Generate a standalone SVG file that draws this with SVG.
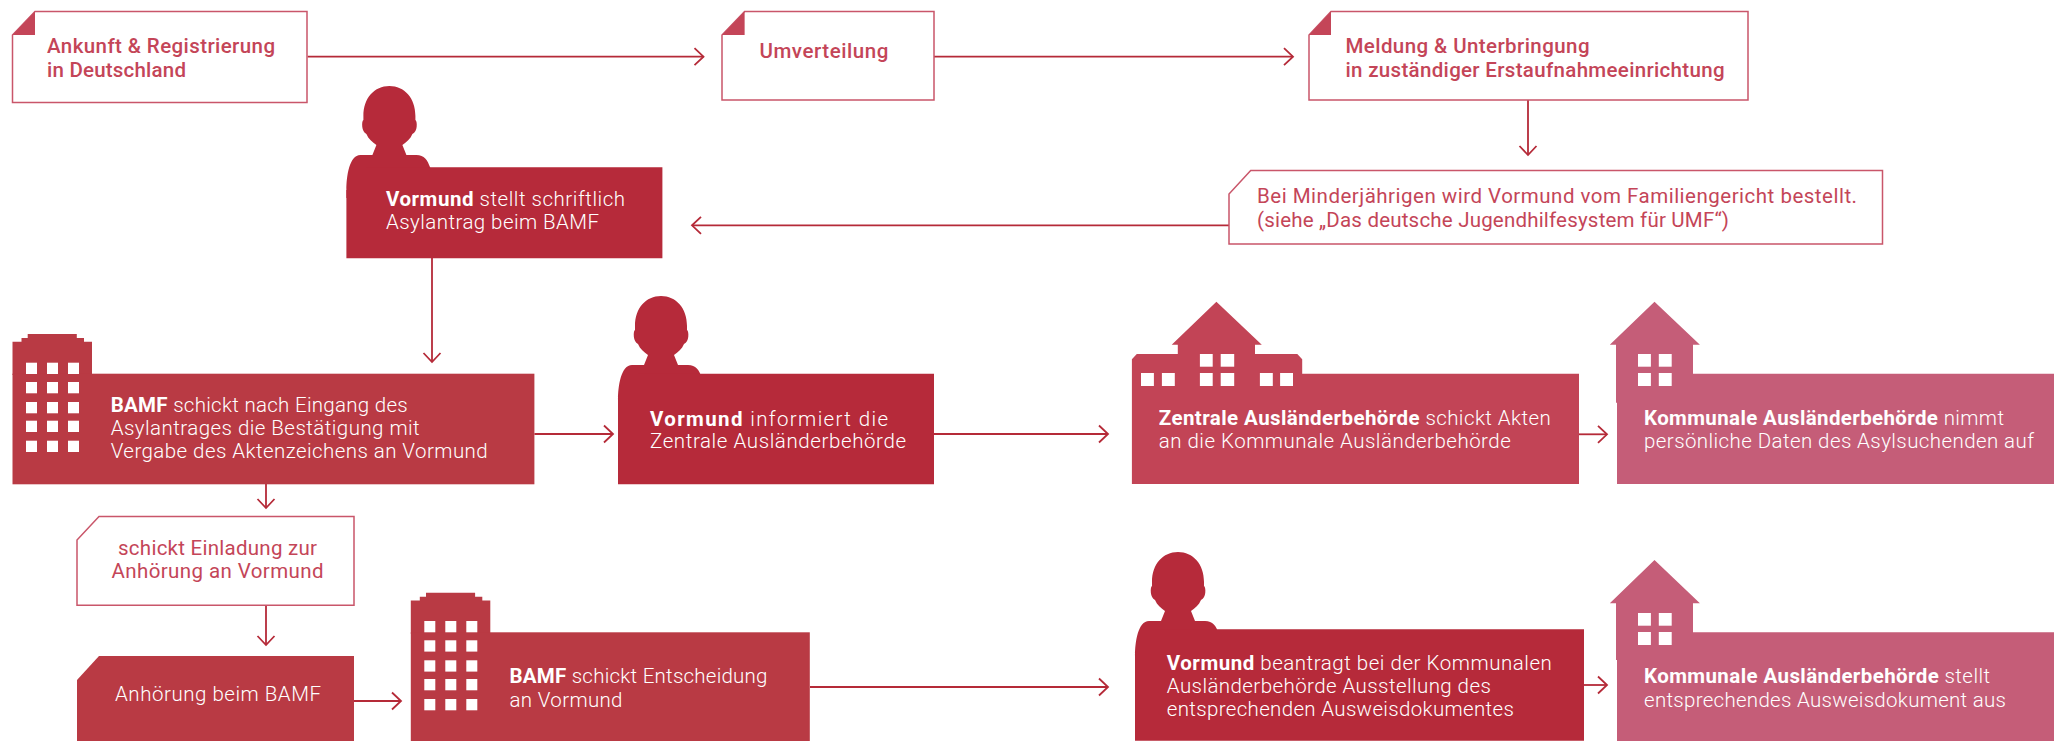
<svg xmlns="http://www.w3.org/2000/svg" width="2061" height="741" viewBox="0 0 2061 741">
<style>
text{font-family:Roboto,"Open Sans","Liberation Sans",sans-serif;font-size:20.5px}
.w{fill:#fff;font-weight:300}
.w tspan.b{font-weight:700}
.r{fill:#c44558;font-weight:400}
.rb{fill:#c44558;font-weight:500}
.m{text-anchor:middle}
.box{fill:#fff;stroke:#c9566a;stroke-width:1.5}
.cor{fill:#c44558}
.v{fill:#b62a3a}.f{fill:#b93a44}.z{fill:#c24456}.k{fill:#c55d78}
.win{fill:#fff}
#connectors path{fill:none;stroke:#b52a38;stroke-width:1.8;marker-end:url(#head)}
</style>
<defs>
<marker id="head" markerUnits="userSpaceOnUse" markerWidth="14" markerHeight="22" refX="11" refY="10" orient="auto" overflow="visible">
<path d="M2 1.500L11 10L2 18.500" fill="none" stroke="#b52a38" stroke-width="1.8"/>
</marker>
<path id="person" d="M43 0C58 0 69 12 69 30L69 34C71 35 71.500 46 66 48C64 53 60 56 56 59L60 69L70 69C78 69 81 74 84 82L84 112L0 112L0 104C0 90 3 69 14 69L26 69L30 59C26 56 22 53 20 48C15 46 15 35 17 34L17 30C17 12 28 0 43 0Z"/>
<path id="tower" d="M0 7.700L9 7.700L9 4L15.200 4L15.200 0L64.300 0L64.300 4L71.500 4L71.500 7.700L79.500 7.700L79.500 41L0 41Z"/>
<g id="wins">
<rect x="13.500" y="0" width="11" height="11.300"/><rect x="34.500" y="0" width="11" height="11.300"/><rect x="55.500" y="0" width="11" height="11.300"/>
<rect x="13.500" y="19.300" width="11" height="11.300"/><rect x="34.500" y="19.300" width="11" height="11.300"/><rect x="55.500" y="19.300" width="11" height="11.300"/>
<rect x="13.500" y="39.300" width="11" height="11.300"/><rect x="34.500" y="39.300" width="11" height="11.300"/><rect x="55.500" y="39.300" width="11" height="11.300"/>
<rect x="13.500" y="58" width="11" height="11.300"/><rect x="34.500" y="58" width="11" height="11.300"/><rect x="55.500" y="58" width="11" height="11.300"/>
<rect x="13.500" y="78" width="11" height="11.300"/><rect x="34.500" y="78" width="11" height="11.300"/><rect x="55.500" y="78" width="11" height="11.300"/>
</g>
</defs>

<g id="connectors">
<path d="M307.600 56.700H703.500"/>
<path d="M934 56.700H1293"/>
<path d="M1528 100V155"/>
<path d="M1229 225.300H692"/>
<path d="M432 258V362"/>
<path d="M534.400 434H613"/>
<path d="M934 434H1108"/>
<path d="M1579 434.300H1607"/>
<path d="M266 484V508"/>
<path d="M266 605V645"/>
<path d="M354 701H401"/>
<path d="M810 687H1108"/>
<path d="M1584 685H1607"/>
</g>

<g id="n-ankunft">
<path class="box" d="M35 11.500H307V102.500H12.500V35Z"/>
<path class="cor" d="M35 11.500V35H12.500Z"/>
<text class="rb" x="47" y="53.300" textLength="228">Ankunft &amp; Registrierung</text>
<text class="rb" x="47" y="76.700" textLength="139">in Deutschland</text>
</g>
<g id="n-umverteilung">
<path class="box" d="M744.600 11.500H934V100H722V35Z"/>
<path class="cor" d="M744.600 11.500V35H722Z"/>
<text class="rb" x="759.400" y="57.700" textLength="129">Umverteilung</text>
</g>
<g id="n-meldung">
<path class="box" d="M1331 11.500H1748V100H1309V35Z"/>
<path class="cor" d="M1331 11.500V35H1309Z"/>
<text class="rb" x="1345.500" y="53.300" textLength="244">Meldung &amp; Unterbringung</text>
<text class="rb" x="1345.500" y="76.700" textLength="379">in zuständiger Erstaufnahmeeinrichtung</text>
</g>
<g id="n-minderjaehrige">
<path class="box" d="M1250.700 170.500H1882.500V244H1229V194Z"/>
<text class="r" x="1257" y="203.300" textLength="600">Bei Minderjährigen wird Vormund vom Familiengericht bestellt.</text>
<text class="r" x="1257" y="226.700" textLength="472">(siehe „Das deutsche Jugendhilfesystem für UMF“)</text>
</g>

<g id="n-vormund1">
<use href="#person" class="v" x="346.400" y="86"/>
<path class="v" d="M366 167.300H662.400V258.300H346.400V190H366Z"/>
<text class="w" x="386" y="205.700" textLength="239"><tspan class="b">Vormund</tspan> stellt schriftlich</text>
<text class="w" x="386" y="228.700" textLength="213">Asylantrag beim BAMF</text>
</g>

<g id="n-bamf1">
<use href="#tower" class="f" x="12.500" y="334"/>
<rect class="f" x="12.500" y="373.700" width="521.900" height="110.600"/>
<use href="#wins" class="win" x="12.500" y="362.700"/>
<text class="w" x="110.700" y="411.700" textLength="297"><tspan class="b">BAMF</tspan> schickt nach Eingang des</text>
<text class="w" x="110.700" y="435" textLength="309">Asylantrages die Bestätigung mit</text>
<text class="w" x="110.700" y="457.700" textLength="377">Vergabe des Aktenzeichens an Vormund</text>
</g>

<g id="n-vormund2">
<use href="#person" class="v" x="618" y="296"/>
<path class="v" d="M638 373.700H934V484.300H618V400H638Z"/>
<text class="w" x="650" y="425.700" textLength="238"><tspan class="b">Vormund</tspan> informiert die</text>
<text class="w" x="650" y="448.300" textLength="256">Zentrale Ausländerbehörde</text>
</g>

<g id="n-zentrale">
<path class="z" d="M1216.400 301.700L1261.800 344.700H1255V354H1297.300L1302.200 359.300V373.700H1579V484H1131.900V359.300L1136.800 354H1177.800V344.700H1171.700Z"/>
<g class="win">
<rect x="1199.900" y="354" width="12.800" height="12.700"/><rect x="1220.700" y="354" width="13.500" height="12.700"/>
<rect x="1199.900" y="373" width="12.800" height="13"/><rect x="1220.700" y="373" width="13.500" height="13"/>
<rect x="1141" y="373" width="12.900" height="13"/><rect x="1161.900" y="373" width="12.900" height="13"/>
<rect x="1259.900" y="373" width="12.900" height="13"/><rect x="1280.100" y="373" width="12.900" height="13"/>
</g>
<text class="w" x="1158.800" y="425.300" textLength="392"><tspan class="b">Zentrale Ausländerbehörde</tspan> schickt Akten</text>
<text class="w" x="1158.800" y="448.300" textLength="352">an die Kommunale Ausländerbehörde</text>
</g>

<g id="n-kommunal1">
<path class="k" d="M1654.500 301.700L1699.900 344.700H1693V373.700H2054V484H1617V402.700H1616V344.700H1609.800Z"/>
<g class="win">
<rect x="1638" y="354" width="12.900" height="12.700"/><rect x="1658.800" y="354" width="12.900" height="12.700"/>
<rect x="1638" y="373" width="12.900" height="13"/><rect x="1658.800" y="373" width="12.900" height="13"/>
</g>
<text class="w" x="1644" y="425.300" textLength="360"><tspan class="b">Kommunale Ausländerbehörde</tspan> nimmt</text>
<text class="w" x="1644" y="448.300" textLength="390">persönliche Daten des Asylsuchenden auf</text>
</g>

<g id="n-einladung">
<path class="box" d="M99 516.500H354V605.300H77V540Z"/>
<text class="r m" x="217.500" y="555" textLength="199">schickt Einladung zur</text>
<text class="r m" x="217.500" y="578.300" textLength="212">Anhörung an Vormund</text>
</g>

<g id="n-anhoerung">
<path class="f" d="M99 656H354V741H77V680Z"/>
<text class="w m" x="218" y="700.700" textLength="206">Anhörung beim BAMF</text>
</g>

<g id="n-bamf2">
<use href="#tower" class="f" x="410.800" y="592.700"/>
<rect class="f" x="410.800" y="632.300" width="399" height="108.700"/>
<use href="#wins" class="win" x="410.800" y="621"/>
<text class="w" x="509.500" y="683.300" textLength="258"><tspan class="b">BAMF</tspan> schickt Entscheidung</text>
<text class="w" x="509.500" y="706.700" textLength="113">an Vormund</text>
</g>

<g id="n-vormund3">
<use href="#person" class="v" x="1135" y="552"/>
<path class="v" d="M1155 629.300H1584V740.700H1135V656H1155Z"/>
<text class="w" x="1166.800" y="670" textLength="385"><tspan class="b">Vormund</tspan> beantragt bei der Kommunalen</text>
<text class="w" x="1166.800" y="693.300" textLength="324">Ausländerbehörde Ausstellung des</text>
<text class="w" x="1166.800" y="716" textLength="347">entsprechenden Ausweisdokumentes</text>
</g>

<g id="n-kommunal2">
<path class="k" d="M1654.500 560L1699.900 603.300H1693V632.300H2054V741H1617V660H1616V603.300H1609.800Z"/>
<g class="win">
<rect x="1638" y="613" width="12.900" height="12.700"/><rect x="1658.800" y="613" width="12.900" height="12.700"/>
<rect x="1638" y="632" width="12.900" height="13"/><rect x="1658.800" y="632" width="12.900" height="13"/>
</g>
<text class="w" x="1644" y="683.300" textLength="346"><tspan class="b">Kommunale Ausländerbehörde</tspan> stellt</text>
<text class="w" x="1644" y="706.700" textLength="362">entsprechendes Ausweisdokument aus</text>
</g>
</svg>
